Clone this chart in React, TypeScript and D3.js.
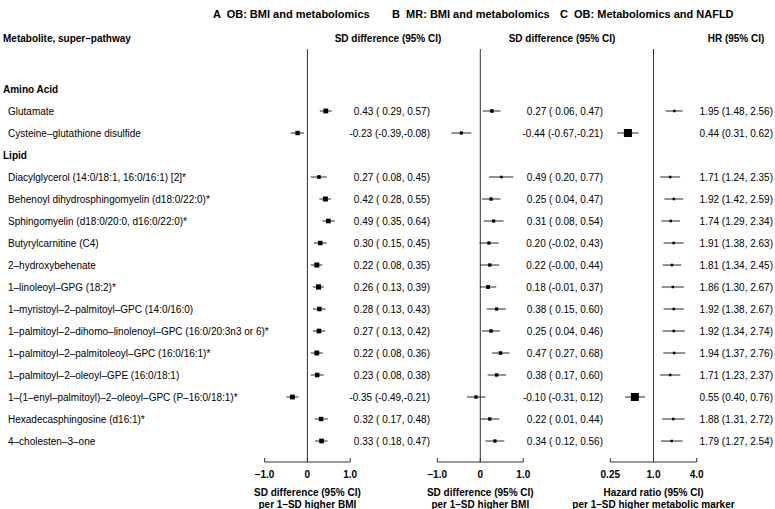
import * as React from "react";
import { scaleLinear, scaleLog } from "d3";

// rows: group headers and metabolites
const aminoAcids = ["Glutamate", "Cysteine–glutathione disulfide"];
const lipids = [
  "Diacylglycerol (14:0/18:1, 16:0/16:1) [2]*",
  "Behenoyl dihydrosphingomyelin (d18:0/22:0)*",
  "Sphingomyelin (d18:0/20:0, d16:0/22:0)*",
  "Butyrylcarnitine (C4)",
  "2–hydroxybehenate",
  "1–linoleoyl–GPG (18:2)*",
  "1–myristoyl–2–palmitoyl–GPC (14:0/16:0)",
  "1–palmitoyl–2–dihomo–linolenoyl–GPC (16:0/20:3n3 or 6)*",
  "1–palmitoyl–2–palmitoleoyl–GPC (16:0/16:1)*",
  "1–palmitoyl–2–oleoyl–GPE (16:0/18:1)",
  "1–(1–enyl–palmitoyl)–2–oleoyl–GPC (P–16:0/18:1)*",
  "Hexadecasphingosine (d16:1)*",
  "4–cholesten–3–one",
];

// A: observational, SD difference per 1-SD higher BMI
const obEst = [0.43, -0.23, 0.27, 0.42, 0.49, 0.3, 0.22, 0.26, 0.28, 0.27, 0.22, 0.23, -0.35, 0.32, 0.33];
const obLo = [0.29, -0.39, 0.08, 0.28, 0.35, 0.15, 0.08, 0.13, 0.13, 0.13, 0.08, 0.08, -0.49, 0.17, 0.18];
const obHi = [0.57, -0.08, 0.45, 0.55, 0.64, 0.45, 0.35, 0.39, 0.43, 0.42, 0.36, 0.38, -0.21, 0.48, 0.47];

// B: Mendelian randomisation
const mrEst = [0.27, -0.44, 0.49, 0.25, 0.31, 0.2, 0.22, 0.18, 0.38, 0.25, 0.47, 0.38, -0.1, 0.22, 0.34];
const mrLo = [0.06, -0.67, 0.2, 0.04, 0.08, -0.02, -0.004, -0.01, 0.15, 0.04, 0.27, 0.17, -0.31, 0.01, 0.12];
const mrHi = [0.47, -0.21, 0.77, 0.47, 0.54, 0.43, 0.44, 0.37, 0.6, 0.46, 0.68, 0.6, 0.12, 0.44, 0.56];

// C: hazard ratios for NAFLD
const hrEst = [1.95, 0.44, 1.71, 1.92, 1.74, 1.91, 1.81, 1.86, 1.92, 1.92, 1.94, 1.71, 0.55, 1.88, 1.79];
const hrLo = [1.48, 0.31, 1.24, 1.42, 1.29, 1.38, 1.34, 1.3, 1.38, 1.34, 1.37, 1.23, 0.4, 1.31, 1.27];
const hrHi = [2.56, 0.62, 2.35, 2.59, 2.34, 2.63, 2.45, 2.67, 2.67, 2.74, 2.76, 2.37, 0.76, 2.72, 2.54];

const sdTicks = [-1, 0, 1];
const sdTickLabels = ["–1.0", "0", "1.0"];
const hrTicks = [0.25, 1, 4];
const hrTickLabels = ["0.25", "1.0", "4.0"];

const FONT = "'Liberation Sans', Arial, Helvetica, sans-serif";

type Row = { label: string; group: boolean; idx: number };
const rows: Row[] = [
  { label: "Amino Acid", group: true, idx: -1 },
  ...aminoAcids.map((l, i) => ({ label: l, group: false, idx: i })),
  { label: "Lipid", group: true, idx: -1 },
  ...lipids.map((l, i) => ({ label: l, group: false, idx: i + aminoAcids.length })),
];

const y = scaleLinear().domain([0, rows.length - 1]).range([89, 441]);
const TOP = 49;
const AXIS_Y = 462;

const signed = (v: number) => {
  const s = v.toFixed(2);
  return s.startsWith("-") ? s : " " + s;
};
const sdText = (i: number, e: number[], lo: number[], hi: number[]) =>
  `${e[i].toFixed(2)} (${signed(lo[i])},${signed(hi[i])})`;
const hrText = (i: number) =>
  `${hrEst[i].toFixed(2)} (${hrLo[i].toFixed(2)}, ${hrHi[i].toFixed(2)})`;

interface PanelProps {
  scale: (v: number) => number;
  est: number[];
  lo: number[];
  hi: number[];
  ticks: number[];
  tickLabels: string[];
  ref0: number;
  boxSize: (i: number) => number;
  text: (i: number) => string;
  textX: number;
  headerX: number;
  header: string;
  title1: string;
  title2: string;
}

const Panel = (props: PanelProps) => {
  const { scale, est, lo, hi, ticks, tickLabels, ref0, boxSize, text, textX, headerX, header, title1, title2 } = props;
  const x0 = scale(ref0);
  const [a, b] = [scale(ticks[0]), scale(ticks[ticks.length - 1])];
  const mid = (a + b) / 2;
  return (
    <g>
      <text x={headerX} y={38} textAnchor="middle" dominantBaseline="central" fontWeight="bold" fontSize={10}>
        {header}
      </text>
      <line x1={x0} x2={x0} y1={TOP} y2={AXIS_Y} stroke="#333" strokeWidth={1} />
      {rows.map((r, ri) => {
        if (r.group) return null;
        const i = r.idx;
        const s = boxSize(i);
        const cy = y(ri);
        return (
          <g key={ri}>
            <line x1={scale(lo[i])} x2={scale(hi[i])} y1={cy} y2={cy} stroke="#111" strokeWidth={0.9} />
            <rect x={scale(est[i]) - s / 2} y={cy - s / 2} width={s} height={s} fill="#000" />
            <text x={textX} y={cy} textAnchor="end" dominantBaseline="central" fontSize={10} style={{ whiteSpace: "pre" }}>
              {text(i)}
            </text>
          </g>
        );
      })}
      <line x1={a} x2={b} y1={AXIS_Y} y2={AXIS_Y} stroke="#333" strokeWidth={1} />
      {ticks.map((t, k) => (
        <g key={k}>
          <line x1={scale(t)} x2={scale(t)} y1={AXIS_Y} y2={AXIS_Y - 4} stroke="#333" strokeWidth={1} />
          <text x={scale(t)} y={474} textAnchor="middle" dominantBaseline="central" fontWeight="bold" fontSize={10}>
            {tickLabels[k]}
          </text>
        </g>
      ))}
      <text x={mid} y={492} textAnchor="middle" dominantBaseline="central" fontWeight="bold" fontSize={10}>
        {title1}
      </text>
      <text x={mid} y={504} textAnchor="middle" dominantBaseline="central" fontWeight="bold" fontSize={10}>
        {title2}
      </text>
    </g>
  );
};

export default function App() {
  const xA = scaleLinear().domain([-1, 1]).range([264.6, 350.2]);
  const xB = scaleLinear().domain([-1, 1]).range([437.3, 523.3]);
  const xC = scaleLog().base(2).domain([0.25, 4]).range([610.3, 696.7]);

  return (
    <svg width={775} height={509} style={{ position: "absolute", left: 0, top: 0, background: "#fff" }} fontFamily={FONT}>
      <text x={213} y={13.5} fontWeight="bold" fontSize={11} dominantBaseline="central" style={{ whiteSpace: "pre" }}>
        A  OB: BMI and metabolomics
      </text>
      <text x={392} y={13.5} fontWeight="bold" fontSize={11} dominantBaseline="central" style={{ whiteSpace: "pre" }}>
        B  MR: BMI and metabolomics
      </text>
      <text x={560} y={13.5} fontWeight="bold" fontSize={11} dominantBaseline="central" style={{ whiteSpace: "pre" }}>
        C  OB: Metabolomics and NAFLD
      </text>
      <text x={3} y={38} fontWeight="bold" fontSize={10} dominantBaseline="central">
        Metabolite, super–pathway
      </text>
      {rows.map((r, ri) => (
        <text
          key={ri}
          x={r.group ? 3 : 8}
          y={y(ri)}
          fontWeight={r.group ? "bold" : "normal"}
          fontSize={10}
          dominantBaseline="central"
        >
          {r.label}
        </text>
      ))}
      <Panel
        scale={xA}
        est={obEst}
        lo={obLo}
        hi={obHi}
        ticks={sdTicks}
        tickLabels={sdTickLabels}
        ref0={0}
        boxSize={(i) => Math.min(5.5, 1.35 / (obHi[i] - obLo[i]))}
        text={(i) => sdText(i, obEst, obLo, obHi)}
        textX={430}
        headerX={388}
        header="SD difference (95% CI)"
        title1="SD difference (95% CI)"
        title2="per 1–SD higher BMI"
      />
      <Panel
        scale={xB}
        est={mrEst}
        lo={mrLo}
        hi={mrHi}
        ticks={sdTicks}
        tickLabels={sdTickLabels}
        ref0={0}
        boxSize={(i) => Math.min(4, 1.45 / (mrHi[i] - mrLo[i]))}
        text={(i) => sdText(i, mrEst, mrLo, mrHi)}
        textX={603}
        headerX={562}
        header="SD difference (95% CI)"
        title1="SD difference (95% CI)"
        title2="per 1–SD higher BMI"
      />
      <Panel
        scale={(v) => xC(v)}
        est={hrEst}
        lo={hrLo}
        hi={hrHi}
        ticks={hrTicks}
        tickLabels={hrTickLabels}
        ref0={1}
        boxSize={(i) => (hrEst[i] < 1 ? 8 : 2.5)}
        text={hrText}
        textX={773}
        headerX={736}
        header="HR (95% CI)"
        title1="Hazard ratio (95% CI)"
        title2="per 1–SD higher metabolic marker"
      />
    </svg>
  );
}
